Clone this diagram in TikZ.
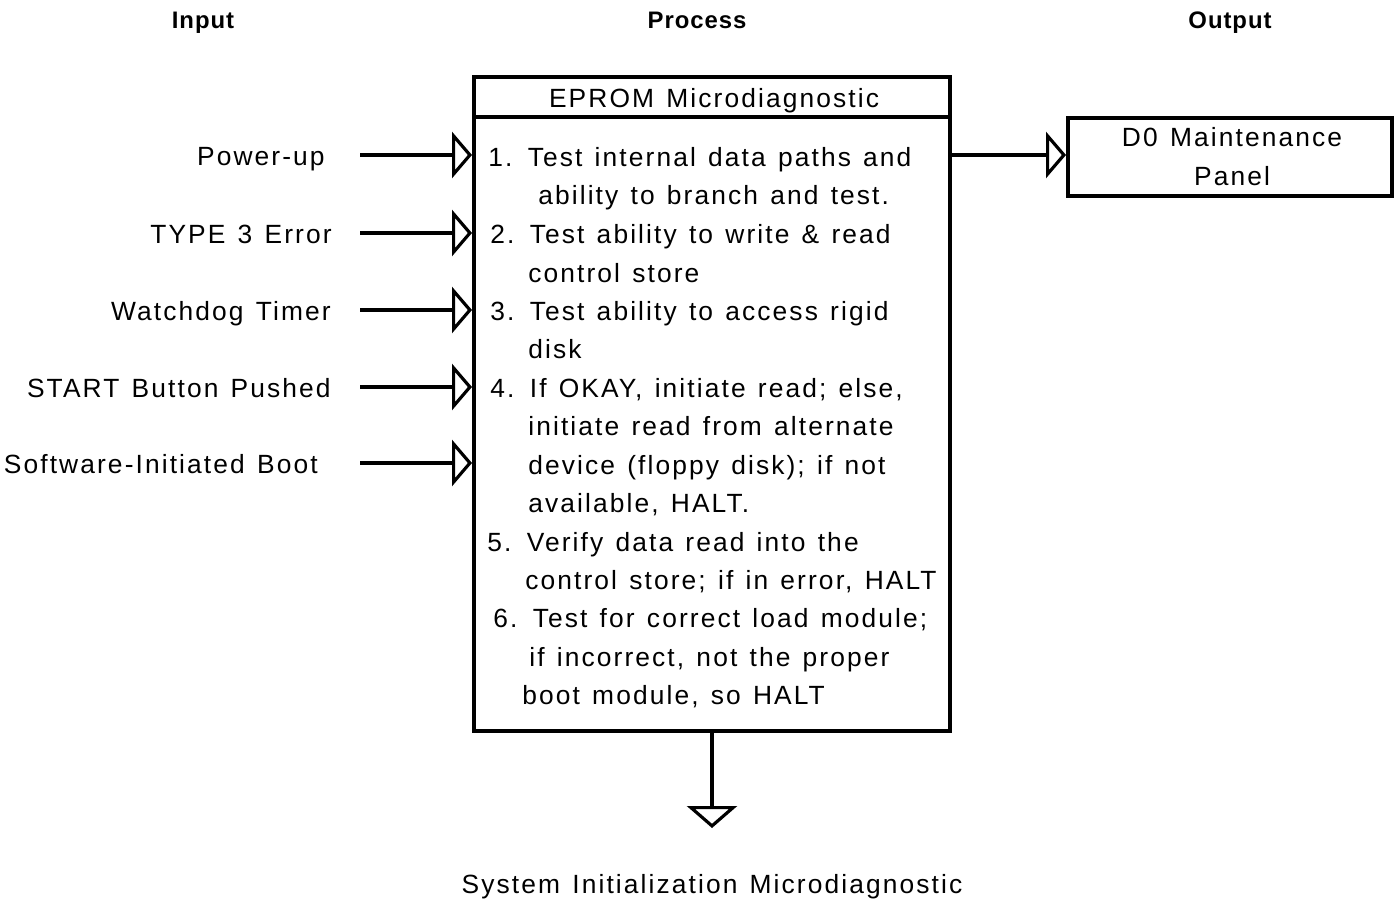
\documentclass[tikz,border=0pt]{standalone}
\usepackage{fontspec}
\setmainfont{Liberation Sans}
\newfontfamily\bodyfont[LetterSpace=8,WordSpace=1.3]{Liberation Sans}
\newfontfamily\headfont[LetterSpace=4]{Liberation Sans}
\usetikzlibrary{arrows.meta}

\begin{document}
\begin{tikzpicture}[x=0.02cm,y=-0.02cm,
  txt/.style={font=\bodyfont\fontsize{15}{18}\selectfont, inner sep=0pt, anchor=base west},
  lbl/.style={font=\bodyfont\fontsize{15}{18}\selectfont, inner sep=0pt, anchor=base east},
  ctr/.style={font=\bodyfont\fontsize{15}{18}\selectfont, inner sep=0pt, anchor=base},
  hdr/.style={font=\headfont\bfseries\fontsize{13.6}{16}\selectfont, inner sep=0pt, anchor=base},
  frame/.style={draw, line width=2.3pt, inner sep=0pt},
  feed/.style={line width=2pt,
    -{Triangle[open, length=0.4cm, width=0.92cm, line width=1.8pt]}},
  drop/.style={line width=2pt,
    -{Triangle[open, length=0.44cm, width=1.0cm, line width=1.8pt]}},
]
\useasboundingbox (0,0) rectangle (1396,900);

% column headings
\node[hdr] (hin)  at (203,28) {Input};
\node[hdr] (hpr)  at (697,28) {Process};
\node[hdr] (hout) at (1230,28) {Output};

% process box: title strip and body
\node[frame, minimum width=9.52cm, minimum height=0.8cm] (ttl) at (712,97) {};
\node[frame, minimum width=9.52cm, minimum height=12.28cm] (body) at (712,424) {};
\node[ctr] (ttltext) at (714,107) {EPROM Microdiagnostic};

% process steps
\node[txt] (l1)  at (488,166) {1. Test internal data paths and};
\node[txt] (l2)  at (538,204) {ability to branch and test.};
\node[txt] (l3)  at (490,243) {2. Test ability to write \& read};
\node[txt] (l4)  at (528,282) {control store};
\node[txt] (l5)  at (490,320) {3. Test ability to access rigid};
\node[txt] (l6)  at (528,358) {disk};
\node[txt] (l7)  at (490,397) {4. If OKAY, initiate read; else,};
\node[txt] (l8)  at (528,435) {initiate read from alternate};
\node[txt] (l9)  at (528,474) {device (floppy disk); if not};
\node[txt] (l10) at (528,512) {available, HALT.};
\node[txt] (l11) at (487,551) {5. Verify data read into the};
\node[txt] (l12) at (525,589) {control store; if in error, HALT};
\node[txt] (l13) at (493,627) {6. Test for correct load module;};
\node[txt] (l14) at (529,666) {if incorrect, not the proper};
\node[txt] (l15) at (522,704) {boot module, so HALT};

% inputs
\node[lbl] (i1) at (325,165) {Power-up};
\node[lbl] (i2) at (332,243) {TYPE 3 Error};
\node[lbl] (i3) at (331,320) {Watchdog Timer};
\node[lbl] (i4) at (331,397) {START Button Pushed};
\node[lbl] (i5) at (318,473) {Software-Initiated Boot};

\coordinate (s1) at (360,155);
\coordinate (s2) at (360,233);
\coordinate (s3) at (360,310);
\coordinate (s4) at (360,387);
\coordinate (s5) at (360,463);
\foreach \s in {s1,s2,s3,s4,s5}
  \draw[feed] (\s) -- (\s -| body.west);

% output
\node[frame, minimum width=6.48cm, minimum height=1.56cm] (dbox) at (1230,157) {};
\node[ctr] (d1) at (1232,146) {D0 Maintenance};
\node[ctr] (d2) at (1232,185) {Panel};
\coordinate (outy) at (0,155);
\draw[feed] (body.east |- outy) -- (dbox.west |- outy);

% continuation downwards
\coordinate (sink) at (712,828);
\draw[drop] (body.south) -- (sink);
\node[ctr] (next) at (712,893) {System Initialization Microdiagnostic};
\end{tikzpicture}
\end{document}
